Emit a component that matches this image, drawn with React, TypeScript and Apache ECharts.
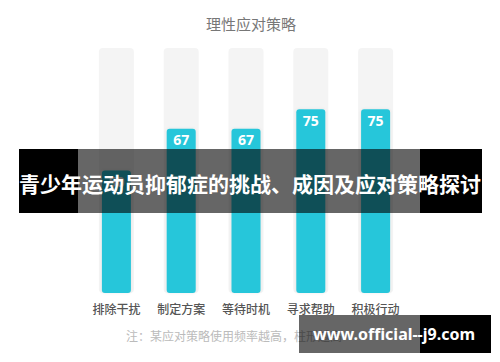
import React, { useEffect, useRef } from "react";
import * as echarts from "echarts";

const categories = ["排除干扰", "制定方案", "等待时机", "寻求帮助", "积极行动"];
const values = [50, 67, 67, 75, 75];
const maxValues = [100, 100, 100, 100, 100];
const titleText = "理性应对策略";
const noteText = "注：某应对策略使用频率越高，柱形越高";
const bannerText = "青少年运动员抑郁症的挑战、成因及应对策略探讨";
const watermarkText = "www.official--j9.com";

const FONT = "'Noto Sans CJK SC', 'Noto Sans', sans-serif";

export default function App() {
  const ref = useRef<HTMLDivElement>(null);
  useEffect(() => {
    if (!ref.current) return;
    const chart = echarts.init(ref.current, undefined, { renderer: "svg" });
    chart.setOption({
      animation: false,
      backgroundColor: "#ffffff",
      textStyle: { fontFamily: FONT },
      title: {
        text: titleText,
        left: 246,
        top: 11,
        textAlign: "center",
        textStyle: { color: "#777", fontSize: 15, fontWeight: "normal", fontFamily: FONT },
      },
      grid: { left: 84, right: 92, top: 48, bottom: 69 },
      xAxis: [
        {
          type: "category",
          data: categories,
          axisLine: { show: false },
          axisTick: { show: false },
          axisLabel: { color: "#555", fontSize: 12, margin: 9, fontFamily: FONT, fontWeight: 500 },
        },
        {
          type: "category",
          data: categories,
          show: false,
        },
      ],
      yAxis: { type: "value", min: 0, max: 100, show: false },
      series: [
        {
          type: "bar",
          xAxisIndex: 1,
          data: maxValues,
          barWidth: 35,
          itemStyle: { color: "#f4f4f4", borderRadius: 4 },
          silent: true,
          z: 1,
        },
        {
          type: "bar",
          xAxisIndex: 0,
          data: values,
          barWidth: 29,
          itemStyle: {
            color: "#26c6da",
            borderRadius: 3,
            shadowColor: "rgba(0,0,0,0.08)",
            shadowBlur: 3,
          },
          label: {
            show: true,
            position: "insideTop",
            distance: 4,
            color: "#ffffff",
            fontSize: 14,
            fontWeight: "bold",
            fontFamily: "'Noto Sans', sans-serif",
          },
          z: 2,
        },
      ],
      graphic: [
        {
          type: "text",
          left: 126,
          top: 329,
          style: { text: noteText, fill: "#bbb", fontSize: 12, fontFamily: FONT },
          z: 10,
        },
        { type: "rect", shape: { x: 19, y: 149, width: 59, height: 64 }, style: { fill: "#000" }, z: 20 },
        { type: "rect", shape: { x: 78, y: 149, width: 342, height: 64 }, style: { fill: "rgba(0,0,0,0.6)" }, z: 20 },
        { type: "rect", shape: { x: 420, y: 149, width: 62, height: 64 }, style: { fill: "#000" }, z: 20 },
        {
          type: "text",
          x: 250,
          y: 183,
          style: {
            text: bannerText,
            fill: "#fff",
            fontSize: 21,
            fontWeight: "bold",
            fontFamily: FONT,
            align: "center",
            verticalAlign: "middle",
          },
          z: 21,
        },
        { type: "rect", shape: { x: 299, y: 315, width: 121, height: 38 }, style: { fill: "rgba(0,0,0,0.6)" }, z: 20 },
        { type: "rect", shape: { x: 420, y: 315, width: 71, height: 38 }, style: { fill: "#000" }, z: 20 },
        {
          type: "text",
          x: 394,
          y: 334,
          style: {
            text: watermarkText,
            fill: "#fff",
            fontSize: 16,
            fontWeight: "bold",
            fontFamily: "'Noto Sans', sans-serif",
            align: "center",
            verticalAlign: "middle",
          },
          z: 21,
        },
      ],
    });
    return () => chart.dispose();
  }, []);
  return (
    <div
      ref={ref}
      style={{ position: "absolute", left: 0, top: 0, width: 500, height: 362 }}
    />
  );
}
